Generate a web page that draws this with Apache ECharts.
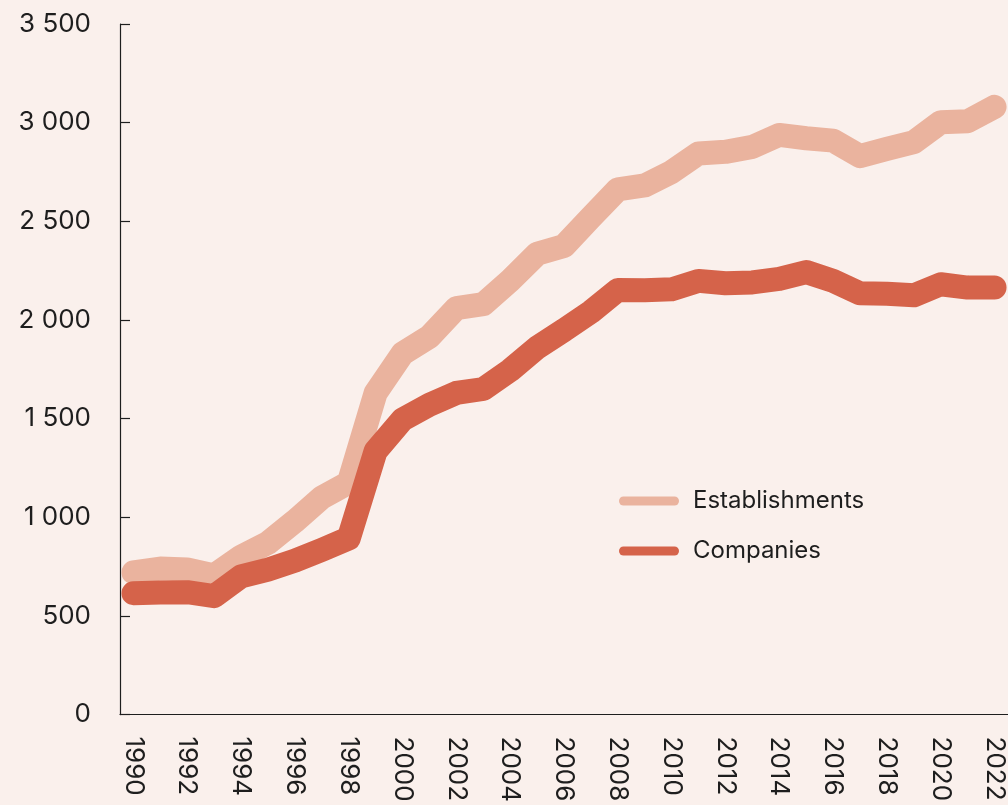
<!DOCTYPE html>
<html>
<head>
<meta charset="utf-8">
<script src="https://cdn.jsdelivr.net/npm/echarts@6/dist/echarts.min.js"></script>
<style>
  html, body { margin: 0; padding: 0; background: #faf0ec; }
  #chart { width: 1008px; height: 805px; }
</style>
</head>
<body>
<div id="chart"></div>
<script>
// Years on the x axis
const years = ['1990', '1991', '1992', '1993', '1994', '1995', '1996', '1997', '1998', '1999',
    '2000', '2001', '2002', '2003', '2004', '2005', '2006', '2007', '2008', '2009',
    '2010', '2011', '2012', '2013', '2014', '2015', '2016', '2017', '2018', '2019',
    '2020', '2021', '2022'];

// Series values
const establishments = [720, 740, 735, 705, 800, 870, 980, 1100, 1175, 1630,
    1830, 1915, 2060, 2080, 2200, 2335, 2375, 2520, 2662, 2682,
    2750, 2844, 2852, 2877, 2938, 2921, 2909, 2830, 2867, 2901,
    3002, 3007, 3080];
const companies = [615, 618, 620, 600, 700, 735, 780, 835, 893, 1335,
    1495, 1570, 1630, 1650, 1745, 1860, 1948, 2041, 2152, 2150,
    2155, 2198, 2186, 2190, 2208, 2243, 2198, 2135, 2133, 2125,
    2181, 2164, 2164];

const seriesNames = ['Establishments', 'Companies'];

const FONT = 'Inter';
const INK = '#1e1e1e';
const lightColor = '#eab39e';
const darkColor = '#d5634a';

// thousands with a space: 3 500
function fmtThousands(v) {
    return String(v).replace(/\B(?=(\d{3})+(?!\d))/g, ' ');
}

const chart = echarts.init(document.getElementById('chart'), null, { renderer: 'canvas' });

const capsule = 'path://M4.5,0 L55.5,0 A4.5,4.5 0 0 1 55.5,9 L4.5,9 A4.5,4.5 0 0 1 4.5,0 Z';

const chartOptions = {
    backgroundColor: '#faf0ec',
    animation: false,
    grid: { left: 120, right: 0, top: 24, bottom: 89, containLabel: false },
    legend: {
        orient: 'vertical',
        left: 619,
        top: 488,
        padding: 0,
        itemWidth: 60,
        itemHeight: 9,
        itemGap: 24,
        icon: capsule,
        data: seriesNames,
        textStyle: {
            fontFamily: FONT, fontSize: 24, color: INK,
            lineHeight: 26, padding: [0, 0, 0, 9]
        }
    },
    xAxis: {
        type: 'category',
        data: years,
        boundaryGap: true,
        axisLine: { lineStyle: { color: INK, width: 1.2 } },
        axisTick: { inside: true, length: 9, interval: 0, lineStyle: { color: INK, width: 1.2 } },
        axisLabel: {
            interval: 1,
            rotate: -90,
            margin: 22,
            fontFamily: FONT,
            fontSize: 26,
            color: INK
        },
        splitLine: { show: false }
    },
    yAxis: {
        type: 'value',
        min: 0,
        max: 3500,
        interval: 500,
        axisLine: { show: true, lineStyle: { color: INK, width: 1.2 } },
        axisTick: { show: true, inside: true, length: 10, lineStyle: { color: INK, width: 1.2 } },
        axisLabel: {
            margin: 29,
            fontFamily: FONT,
            fontSize: 26,
            color: INK,
            formatter: fmtThousands
        },
        splitLine: { show: false }
    },
    series: [
        {
            name: seriesNames[0],
            type: 'line',
            data: establishments,
            symbol: 'none',
            itemStyle: { color: lightColor },
            lineStyle: { color: lightColor, width: 24, cap: 'round', join: 'round' },
            z: 2
        },
        {
            name: seriesNames[1],
            type: 'line',
            data: companies,
            symbol: 'none',
            itemStyle: { color: darkColor },
            lineStyle: { color: darkColor, width: 24, cap: 'round', join: 'round' },
            z: 3
        }
    ]
};

chart.setOption(chartOptions);
</script>
</body>
</html>
